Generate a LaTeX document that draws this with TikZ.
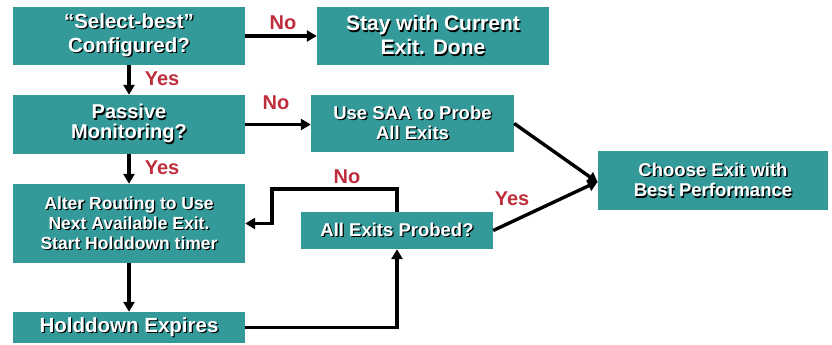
\documentclass[tikz,border=0pt]{standalone}
\usepackage{fontspec}
\setmainfont{Liberation Sans}
\usetikzlibrary{arrows.meta}
\definecolor{boxteal}{RGB}{51,153,153}
\definecolor{labred}{RGB}{190,45,60}
% white lettering with a small dark drop shadow
\newcommand\shtxt[1]{\makebox[0pt][l]{\raisebox{-1.3pt}{\hspace*{1.3pt}\textcolor{black}{#1}}}#1}
\begin{document}
\begin{tikzpicture}[x=1pt,y=-1pt,
  flowbox/.style={fill=boxteal,draw=none,text=white,align=center,inner sep=0pt,font=\bfseries},
  ans/.style={text=labred,font=\bfseries\fontsize{20}{22}\selectfont,inner sep=0pt},
  flow/.style={line width=3.4pt,-{Triangle[length=10pt,width=11pt]}}]
\useasboundingbox (0,0) rectangle (832,345);

\node[flowbox,minimum width=232,minimum height=58,font=\bfseries\fontsize{20.5}{24}\selectfont]
  (sel) at (129,36) {\shtxt{“Select-best”}\\\shtxt{Configured?}};
\node[flowbox,minimum width=232,minimum height=58,font=\bfseries\fontsize{21}{24}\selectfont]
  (stay) at (433,36) {\shtxt{Stay with Current}\\\shtxt{Exit. Done}};
\node[flowbox,minimum width=232,minimum height=59,font=\bfseries\fontsize{20}{20}\selectfont]
  (pas) at (129,124.5) {\shtxt{Passive}\\\shtxt{Monitoring?}};
\node[flowbox,minimum width=203,minimum height=57,font=\bfseries\fontsize{18.5}{20}\selectfont]
  (saa) at (412.5,123.5) {\shtxt{Use SAA to Probe}\\\shtxt{All Exits}};
\node[flowbox,minimum width=230,minimum height=59,font=\bfseries\fontsize{18.5}{20.5}\selectfont]
  (best) at (713,180.5) {\shtxt{Choose Exit with}\\\shtxt{Best Performance}};
\node[flowbox,minimum width=232,minimum height=79,font=\bfseries\fontsize{17.5}{20}\selectfont]
  (alt) at (129,223.5) {\shtxt{Alter Routing to Use}\\\shtxt{Next Available Exit.}\\\shtxt{Start Holddown timer}};
\node[flowbox,minimum width=192,minimum height=37,font=\bfseries\fontsize{18.5}{20}\selectfont]
  (prb) at (397,230.5) {\shtxt{All Exits Probed?}};
\node[flowbox,minimum width=232,minimum height=31,font=\bfseries\fontsize{20.5}{22}\selectfont]
  (hold) at (129,327.5) {\shtxt{Holddown Expires}};

\coordinate (knee) at (272,189);

\draw[flow] (sel.east) -- (stay.west);
\draw[flow] (sel.south) -- (pas.north);
\draw[flow] (pas.east) -- (pas.east -| saa.west);
\draw[flow] (pas.south) -- (alt.north);
\draw[flow] (saa.east) -- ([yshift=-2]best.west);
\draw[flow] (prb.east) -- ([yshift=-1]best.west);
\draw[flow] (prb.north) |- (knee) |- (alt.east);
\draw[flow] (alt.south) -- (hold.north);
\draw[flow] (hold.east) -| (prb.south);

\node[ans] (n1) at (283,23) {No};
\node[ans] (y1) at (162,79) {Yes};
\node[ans] (n2) at (276,103) {No};
\node[ans] (y2) at (162,168) {Yes};
\node[ans] (n3) at (347,177) {No};
\node[ans] (y3) at (512,199) {Yes};
\end{tikzpicture}
\end{document}
